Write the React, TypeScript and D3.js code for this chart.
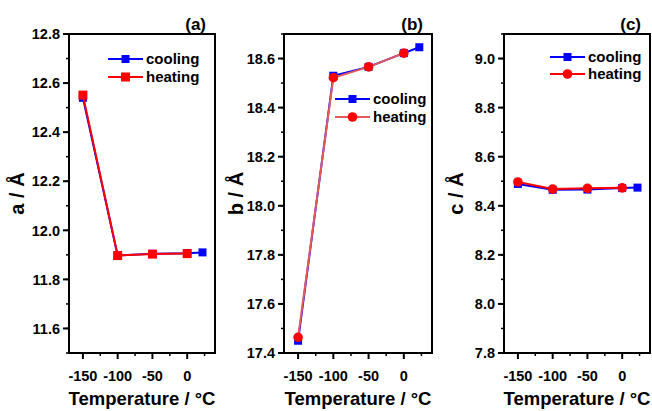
import React, { useRef, useEffect } from "react";
import * as d3 from "d3";

// temperatures (°C)
const tempCooling = [-150, -100, -50, 0, 22];
const tempHeating = [-150, -100, -50, 0];

// lattice parameter a
const aCooling = [12.54, 11.897, 11.904, 11.907, 11.91];
const aHeating = [12.551, 11.897, 11.903, 11.905];

// lattice parameter b
const bCooling = [17.45, 18.53, 18.566, 18.622, 18.646];
const bHeating = [17.464, 18.522, 18.566, 18.622];

// lattice parameter c
const cCooling = [8.489, 8.465, 8.466, 8.472, 8.474];
const cHeating = [8.497, 8.468, 8.471, 8.473];

const xTicks = [-150, -100, -50, 0];
const xMinor = [-125, -75, -25, 25];
const aTicks = [11.6, 11.8, 12.0, 12.2, 12.4, 12.6, 12.8];
const bTicks = [17.4, 17.6, 17.8, 18.0, 18.2, 18.4, 18.6];
const cTicks = [7.8, 8.0, 8.2, 8.4, 8.6, 8.8, 9.0];

const FONT = "'Liberation Sans', Arial, sans-serif";
const BLUE = "#0000ff";
const RED = "#ff0000";

function App() {
  const ref = useRef(null);

  useEffect(() => {
    const svg = d3.select(ref.current);
    svg.selectAll("*").remove();

    const panels = [
      {
        tag: "(a)", label: "a / Å", left: 69, right: 215, yDom: [11.5, 12.8],
        ticks: aTicks, cool: aCooling, heat: aHeating, heatMarker: "square",
        heatLine: RED, leg: { x: 108, y: 59, dy: 18 }, labelX: 17,
      },
      {
        tag: "(b)", label: "b / Å", left: 284, right: 432, yDom: [17.4, 18.7],
        ticks: bTicks, cool: bCooling, heat: bHeating, heatMarker: "circle",
        heatLine: "#e35a5a", leg: { x: 335, y: 99, dy: 18 }, labelX: 236,
      },
      {
        tag: "(c)", label: "c / Å", left: 504, right: 650, yDom: [7.8, 9.1],
        ticks: cTicks, cool: cCooling, heat: cHeating, heatMarker: "circle",
        heatLine: RED, leg: { x: 550, y: 57, dy: 17 }, labelX: 456,
      },
    ];
    const top = 34, bottom = 353;

    panels.forEach((p) => {
      const x = d3.scaleLinear().domain([-170, 40]).range([p.left, p.right]);
      const y = d3.scaleLinear().domain(p.yDom).range([bottom, top]);
      const g = svg.append("g");

      // minor y ticks
      const minorY = d3.range(p.yDom[0], p.yDom[1] + 0.001, 0.1)
        .map((v) => +v.toFixed(2));
      g.selectAll(".my").data(minorY).join("line")
        .attr("x1", p.left - 3).attr("x2", p.left)
        .attr("y1", (d) => y(d)).attr("y2", (d) => y(d))
        .attr("stroke", "#000").attr("stroke-width", 1.5);

      g.selectAll(".Y").data(p.ticks).join("line")
        .attr("x1", p.left - 6).attr("x2", p.left)
        .attr("y1", (d) => y(d)).attr("y2", (d) => y(d))
        .attr("stroke", "#000").attr("stroke-width", 2);

      g.selectAll(".yl").data(p.ticks).join("text")
        .attr("x", p.left - 9).attr("y", (d) => y(d))
        .attr("dy", "0.36em").attr("text-anchor", "end")
        .attr("font-family", FONT).attr("font-weight", "bold").attr("font-size", 14.5)
        .text((d) => d.toFixed(1));

      g.selectAll(".mx").data(xMinor).join("line")
        .attr("x1", (d) => x(d)).attr("x2", (d) => x(d))
        .attr("y1", bottom).attr("y2", bottom + 3)
        .attr("stroke", "#000").attr("stroke-width", 1.5);

      g.selectAll(".X").data(xTicks).join("line")
        .attr("x1", (d) => x(d)).attr("x2", (d) => x(d))
        .attr("y1", bottom).attr("y2", bottom + 6)
        .attr("stroke", "#000").attr("stroke-width", 2);

      g.selectAll(".xl").data(xTicks).join("text")
        .attr("x", (d) => x(d)).attr("y", 381)
        .attr("text-anchor", "middle")
        .attr("font-family", FONT).attr("font-weight", "bold").attr("font-size", 14.5)
        .text((d) => String(d));

      // frame
      g.append("rect")
        .attr("x", p.left).attr("y", top)
        .attr("width", p.right - p.left).attr("height", bottom - top)
        .attr("fill", "none").attr("stroke", "#000").attr("stroke-width", 2);

      // titles
      g.append("text")
        .attr("x", (p.left + p.right) / 2).attr("y", 405)
        .attr("text-anchor", "middle")
        .attr("font-family", FONT).attr("font-weight", "bold").attr("font-size", 18.5)
        .text("Temperature / °C");

      g.append("text")
        .attr("transform", `translate(${p.labelX + 7},${(top + bottom) / 2}) rotate(-90)`)
        .attr("text-anchor", "middle")
        .attr("font-family", FONT).attr("font-weight", "bold").attr("font-size", 20)
        .text(p.label);

      g.append("text")
        .attr("x", p.right - 9).attr("y", 30)
        .attr("text-anchor", "end")
        .attr("font-family", FONT).attr("font-weight", "bold").attr("font-size", 17)
        .text(p.tag);

      const line = d3.line<[number, number]>().x((d) => x(d[0])).y((d) => y(d[1]));
      const coolPts = tempCooling.map((t, i) => [t, p.cool[i]] as [number, number]);
      const heatPts = tempHeating.map((t, i) => [t, p.heat[i]] as [number, number]);

      g.append("path").attr("d", line(coolPts)).attr("fill", "none")
        .attr("stroke", BLUE).attr("stroke-width", 2);
      g.selectAll(".cm").data(coolPts).join("rect")
        .attr("x", (d) => x(d[0]) - 4).attr("y", (d) => y(d[1]) - 4)
        .attr("width", 8).attr("height", 8).attr("fill", BLUE);

      g.append("path").attr("d", line(heatPts)).attr("fill", "none")
        .attr("stroke", p.heatLine).attr("stroke-width", 2);
      const drawHeat = (sel, cx, cy) => {
        if (p.heatMarker === "square") {
          sel.append("rect").attr("x", cx - 4.5).attr("y", cy - 4.5)
            .attr("width", 9).attr("height", 9).attr("fill", RED);
        } else {
          sel.append("circle").attr("cx", cx).attr("cy", cy).attr("r", 4.8).attr("fill", RED);
        }
      };
      heatPts.forEach((d) => drawHeat(g, x(d[0]), y(d[1])));

      // legend
      const L = p.leg;
      const rows = [
        { name: "cooling", lineC: BLUE, yy: L.y },
        { name: "heating", lineC: p.heatLine, yy: L.y + L.dy },
      ];
      rows.forEach((r, i) => {
        g.append("line").attr("x1", L.x).attr("x2", L.x + 35)
          .attr("y1", r.yy).attr("y2", r.yy)
          .attr("stroke", r.lineC).attr("stroke-width", 2);
        if (i === 0) {
          g.append("rect").attr("x", L.x + 17.5 - 4).attr("y", r.yy - 4)
            .attr("width", 8).attr("height", 8).attr("fill", BLUE);
        } else {
          drawHeat(g, L.x + 17.5, r.yy);
        }
        g.append("text").attr("x", L.x + 38).attr("y", r.yy).attr("dy", "0.36em")
          .attr("font-family", FONT).attr("font-weight", "bold").attr("font-size", 15)
          .text(r.name);
      });
    });
  }, []);

  return (
    <svg
      ref={ref}
      width={652}
      height={411}
      style={{ position: "absolute", left: 0, top: 0, background: "#fff" }}
    />
  );
}

export default App;
